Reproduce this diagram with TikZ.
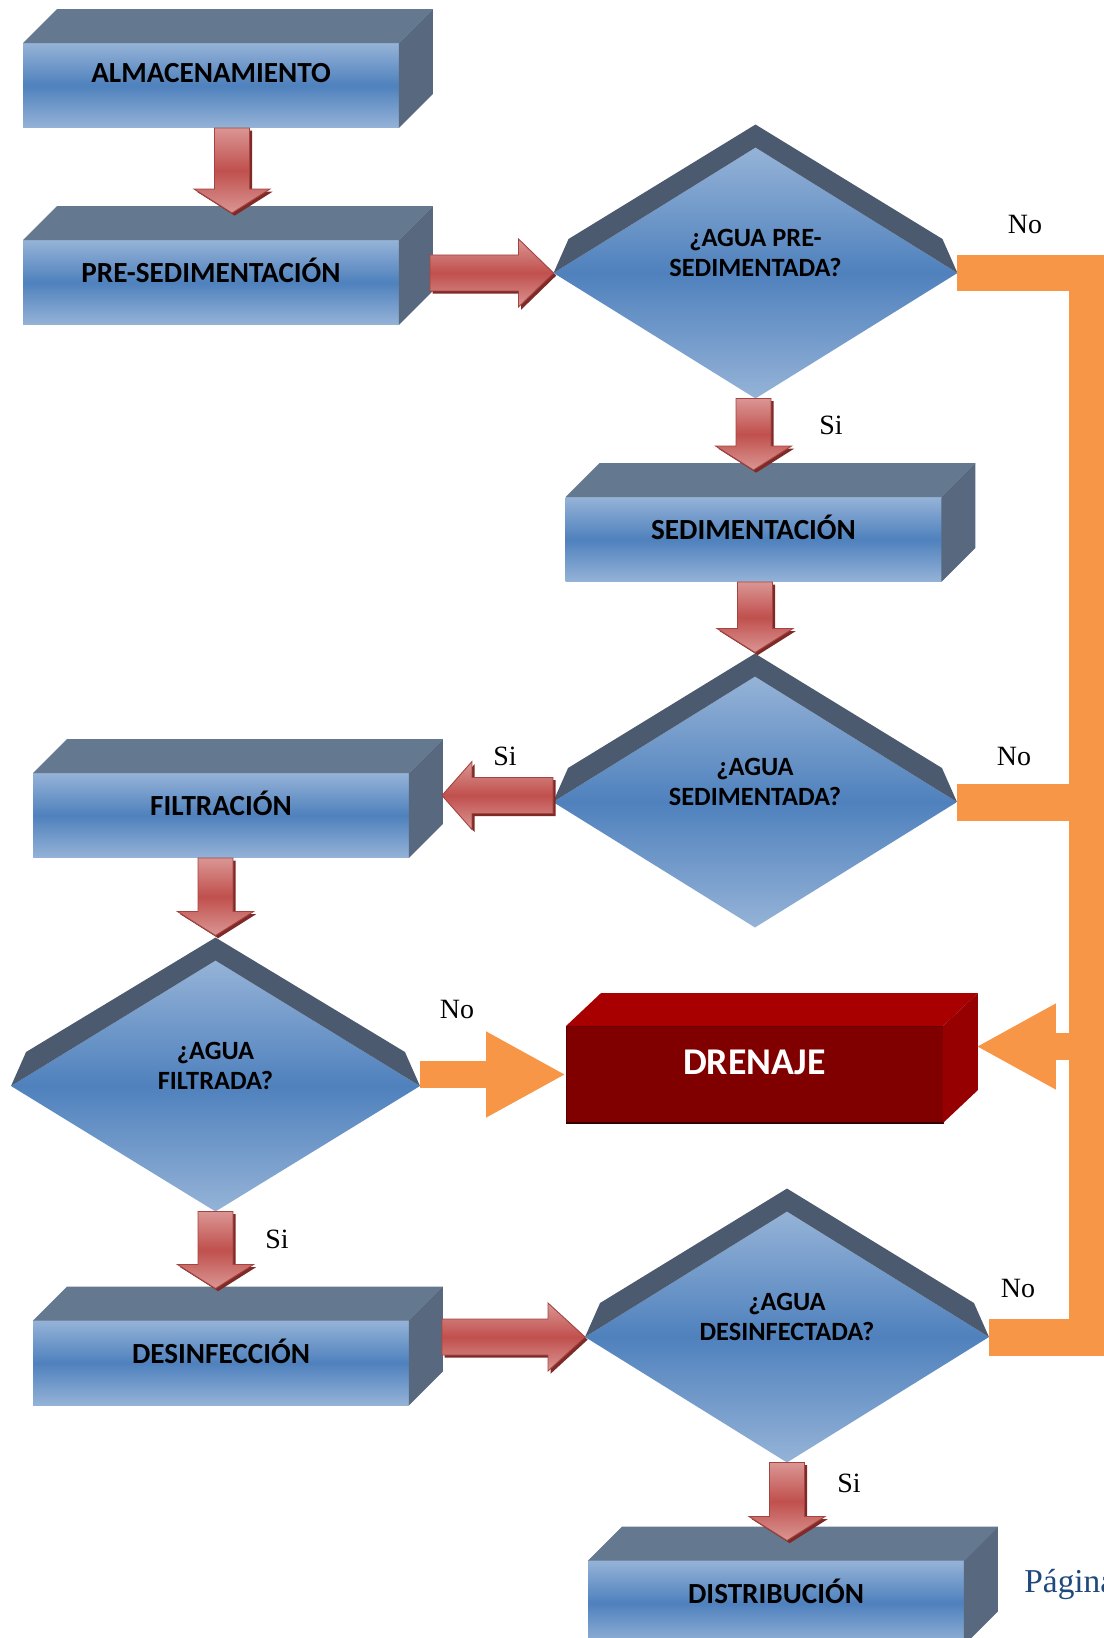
\documentclass[tikz,border=0pt]{standalone}
\usepackage{fontspec}
\setmainfont{Liberation Serif}
\newfontfamily\boxfont{Carlito}
\usetikzlibrary{shapes.geometric,arrows.meta,calc}

\definecolor{boxlight}{HTML}{95B3D7}
\definecolor{boxmid}{HTML}{4F81BD}
\definecolor{boxtop}{HTML}{64788F}
\definecolor{boxside}{HTML}{57687F}
\definecolor{dshadow}{HTML}{4B5A6E}
\definecolor{redlight}{HTML}{DA9694}
\definecolor{redmid}{HTML}{C0504D}
\definecolor{reddark}{HTML}{7F2A27}
\definecolor{pipeorange}{HTML}{F79646}
\definecolor{drenfront}{HTML}{800000}
\definecolor{drentop}{HTML}{A80000}
\definecolor{drenside}{HTML}{960000}
\definecolor{pagblue}{HTML}{1F497D}

% block arrow pointing down: #1 start, #2 tip
\newcommand{\vblock}[2]{%
  \shade[redarrow] ($(#2|-#1)+(-17.5,0)$) -- ($(#2)+(-17.5,-24)$) -- ($(#2)+(-38,-24)$) -- (#2)
    -- ($(#2)+(38,-24)$) -- ($(#2)+(17.5,-24)$) -- ($(#2|-#1)+(17.5,0)$) -- cycle;}
% block arrow sideways: #1 start, #2 tip, #3 signed head length
\newcommand{\hblock}[3]{%
  \shade[redarrow] ($(#1|-#2)+(0,-18)$) -- ($(#2)-(#3,18)$) -- ($(#2)-(#3,34)$) -- (#2)
    -- ($(#2)-(#3,-34)$) -- ($(#2)-(#3,-18)$) -- ($(#1|-#2)+(0,18)$) -- cycle;}

\begin{document}
\begin{tikzpicture}[x=0.02cm, y=-0.02cm,
  proc/.style={rectangle, minimum width=7.52cm, minimum height=1.7cm, inner sep=0pt, outer sep=0pt,
    shade, top color=boxlight, bottom color=boxlight, middle color=boxmid},
  proctext/.style={font=\boxfont\bfseries\fontsize{16.6}{19}\selectfont, yshift=0.24cm},
  decision/.style={diamond, minimum width=8.08cm, minimum height=5.02cm, inner sep=0pt, outer sep=0pt,
    shade, top color=boxlight, bottom color=boxlight, middle color=boxmid},
  dtext/.style={font=\boxfont\bfseries\fontsize{15}{17.4}\selectfont, align=center, yshift=0.4cm},
  drain/.style={rectangle, minimum width=7.54cm, minimum height=1.94cm, inner sep=0pt, outer sep=0pt,
    fill=drenfront, draw=drenfront!70!black, line width=0.4pt},
  draintext/.style={font=\boxfont\bfseries\fontsize{21.5}{25}\selectfont, text=white, yshift=0.25cm},
  redarrow/.style={top color=redlight, bottom color=redlight, middle color=redmid,
    draw=redmid!85!black, line width=0.5pt,
    preaction={fill=reddark, transform canvas={xshift=1.5pt, yshift=-1.5pt}}},
  pipe/.style={draw=pipeorange, line width=0.74cm},
  oarrow/.style={draw=pipeorange, line width=0.55cm, -{Triangle[length=1.6cm, width=1.6cm]}},
  lab/.style={inner sep=0pt, font=\fontsize{15.9}{18}\selectfont}]

\useasboundingbox (0,0) rectangle (1103,1638);

% ---------- Process boxes ----------
\node[proc, label={[proctext]center:ALMACENAMIENTO}] (alm) at (211,85.5) {};
\node[proc, label={[proctext]center:PRE-SEDIMENTACIÓN}] (pre) at (211,282.5) {};
\node[proc, label={[proctext]center:SEDIMENTACIÓN}] (sed) at (753.5,539.5) {};
\node[proc, label={[proctext]center:FILTRACIÓN}] (fil) at (221,815.5) {};
\node[proc, label={[proctext]center:DESINFECCIÓN}] (des) at (221,1363) {};
\node[proc, label={[proctext]center:DISTRIBUCIÓN}] (dis) at (776,1603) {};

% top and side faces
\foreach \b in {alm,pre,sed,fil,des,dis}{
  \fill[boxtop] (\b.north west) -- ++(34,-34) -- ($(\b.north east)+(34,-34)$) -- (\b.north east) -- cycle;
  \fill[boxside] (\b.north east) -- ++(34,-34) -- ($(\b.south east)+(34,-34)$) -- (\b.south east) -- cycle;
}

% ---------- Drain ----------
\node[drain, label={[draintext]center:DRENAJE}] (dren) at (754.5,1074.5) {};
\fill[drentop] (dren.north west) -- ++(35,-33) -- ($(dren.north east)+(35,-33)$) -- (dren.north east) -- cycle;
\fill[drenside] (dren.north east) -- ++(35,-33) -- ($(dren.south east)+(35,-33)$) -- (dren.south east) -- cycle;
\draw[drenfront!40!black, line width=1.2pt] (dren.south west) -- (dren.south east);

% ---------- Decisions ----------
\node[decision, label={[dtext]center:{¿AGUA PRE-\\SEDIMENTADA?}}] (d1) at (755.5,273) {};
\node[decision, label={[dtext]center:{¿AGUA\\SEDIMENTADA?}}] (d2) at (755,802) {};
\node[decision, minimum width=8.18cm, label={[dtext]center:{¿AGUA\\FILTRADA?}}] (d3) at (215.5,1086) {};
\node[decision, label={[dtext]center:{¿AGUA\\DESINFECTADA?}}] (d4) at (787,1337) {};

% raised rims
\foreach \q in {d1,d2,d3,d4}{
  \fill[dshadow] (\q.west) -- ++(15,-34) -- ($(\q.north)+(0,-23)$) -- ($(\q.east)+(-15,-34)$)
    -- (\q.east) -- (\q.north) -- cycle;
}

% ---------- Red flow arrows ----------
\coordinate (almOut) at ($(alm.south)+(21,0)$);
\coordinate (preIn) at ($(pre.north)+(21,-27)$);
\coordinate (preOut) at ($(pre.east)+(31,0)$);
\coordinate (sedIn) at ($(sed.north)+(0,-27)$);
\coordinate (dtwoIn) at ($(d2.north)+(0,-24)$);
\coordinate (filIn) at ($(fil.east)+(33,-20)$);
\coordinate (dthreeIn) at ($(d3.north)+(0,-25)$);
\coordinate (desIn) at ($(d3.south|-des.north)+(0,-32)$);
\coordinate (desOut) at ($(des.east)+(33,0)$);
\coordinate (disIn) at ($(d4.south|-dis.north)+(0,-20)$);

\vblock{almOut}{preIn}
\hblock{preOut}{d1.west}{35}
\vblock{d1.south}{sedIn}
\vblock{sed.south}{dtwoIn}
\hblock{d2.west}{filIn}{-30}
\vblock{fil.south}{dthreeIn}
\vblock{d3.south}{desIn}
\hblock{desOut}{d4.west}{37}
\vblock{d4.south}{disIn}

% ---------- Orange reject lines ----------
\coordinate (pipex) at (1087,0);
\coordinate (drenR) at ($(dren.east)+(33,-28)$);
\draw[pipe] (d1.east) -| (pipex |- d4.east) -- (d4.east);
\draw[pipe] (d2.east) -- (d2.east -| pipex);
\draw[oarrow] (pipex |- drenR) -- (drenR);
\draw[oarrow] (d3.east |- dren.west) -- (dren.west);

% ---------- Labels ----------
\node[lab] (no1) at (1025,224) {No};
\node[lab] (si1) at (831,425) {Si};
\node[lab] (no2) at (1014,756) {No};
\node[lab] (si2) at (505,756) {Si};
\node[lab] (no3) at (457,1009) {No};
\node[lab] (si3) at (277,1239) {Si};
\node[lab] (no4) at (1018,1288) {No};
\node[lab] (si4) at (849,1483) {Si};

\node[anchor=base west, inner sep=0pt, text=pagblue, font=\fontsize{19}{22}\selectfont] (pag) at (1024,1592) {Página};

\end{tikzpicture}
\end{document}
